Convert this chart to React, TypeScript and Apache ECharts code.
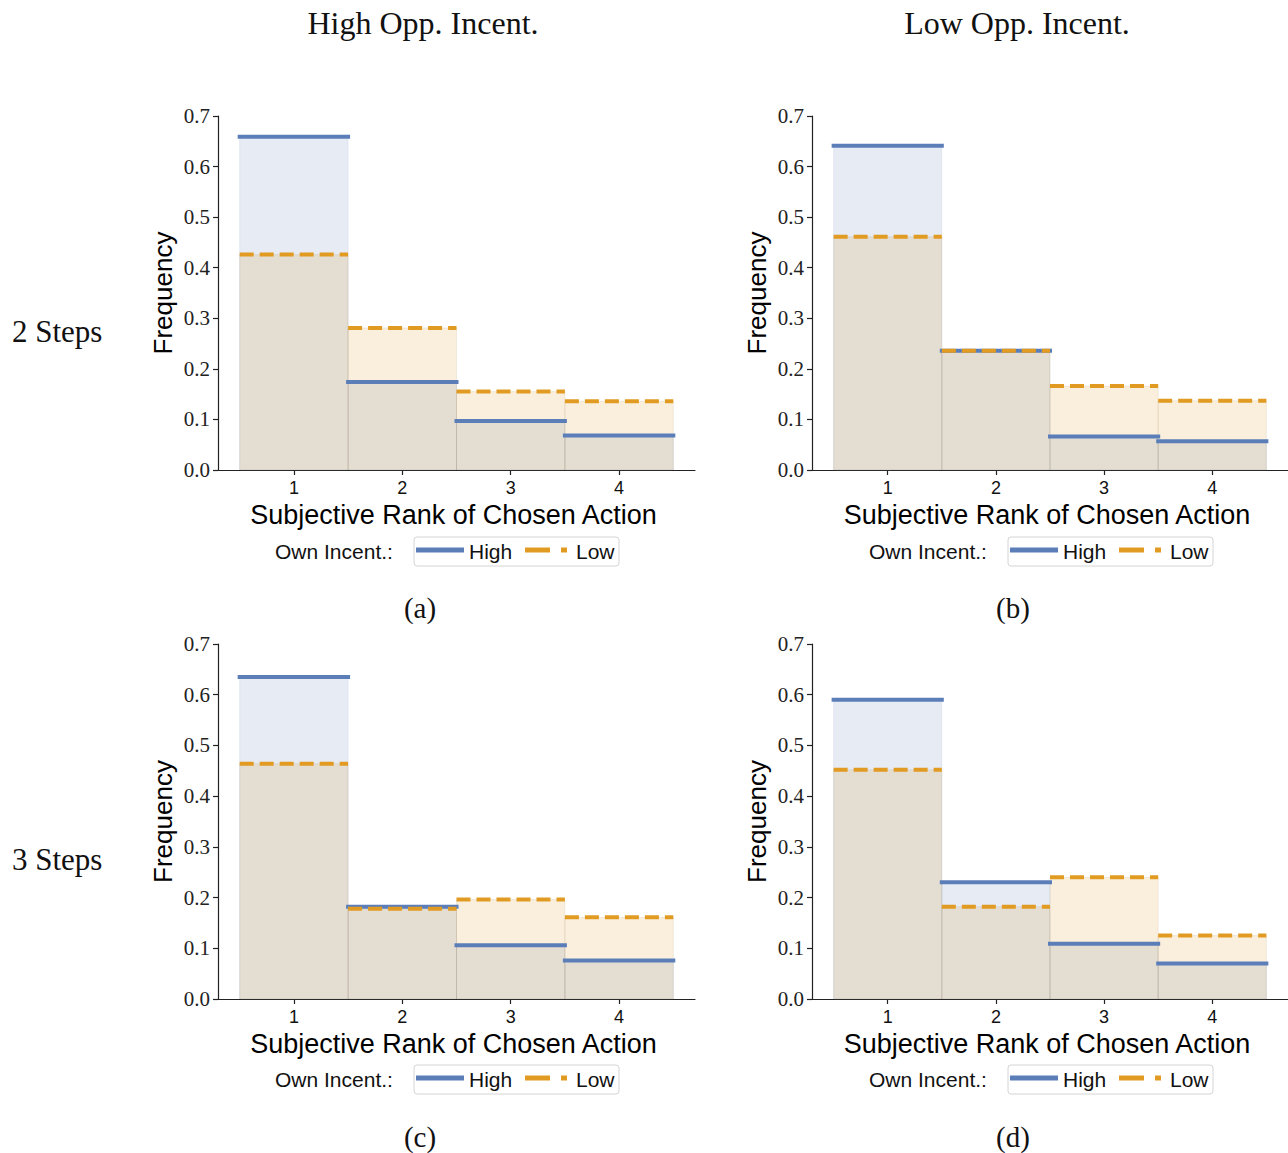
import React, { useEffect, useRef } from "react";
import * as echarts from "echarts";

// ---------- data ----------
const ranks = [1, 2, 3, 4];
const yTickValues = [0, 0.1, 0.2, 0.3, 0.4, 0.5, 0.6, 0.7];

const panelAHigh = [0.659, 0.174, 0.097, 0.068];
const panelALow = [0.426, 0.281, 0.155, 0.136];
const panelBHigh = [0.641, 0.236, 0.066, 0.057];
const panelBLow = [0.461, 0.236, 0.166, 0.137];
const panelCHigh = [0.635, 0.182, 0.106, 0.076];
const panelCLow = [0.464, 0.178, 0.196, 0.161];
const panelDHigh = [0.59, 0.23, 0.109, 0.07];
const panelDLow = [0.452, 0.182, 0.24, 0.125];

const columnTitles = ["High Opp. Incent.", "Low Opp. Incent."];
const rowTitles = ["2 Steps", "3 Steps"];
const panelLabels = ["(a)", "(b)", "(c)", "(d)"];
const legendTitle = "Own Incent.:";
const seriesNames = ["High", "Low"];
const xAxisTitle = "Subjective Rank of Chosen Action";
const yAxisTitle = "Frequency";

// ---------- styles ----------
const SANS = "Liberation Sans";
const SERIF = "Liberation Serif";
const BLUE_LINE = "#5b7eb9";
const ORANGE_LINE = "#e29b22";
const BLUE_FILL = "rgba(76,114,176,0.14)";
const ORANGE_FILL = "rgba(222,143,5,0.14)";
const BLUE_EDGE = "rgba(76,114,176,0.10)";
const ORANGE_EDGE = "rgba(160,130,90,0.12)";
const AXIS_COLOR = "#222";

const panels = [
  { high: panelAHigh, low: panelALow, grid: { left: 218, top: 116, width: 477, height: 354 } },
  { high: panelBHigh, low: panelBLow, grid: { left: 812, top: 116, width: 476, height: 354 } },
  { high: panelCHigh, low: panelCLow, grid: { left: 218, top: 644, width: 477, height: 355 } },
  { high: panelDHigh, low: panelDLow, grid: { left: 812, top: 644, width: 476, height: 355 } },
];

function toData(values: number[]) {
  return ranks.map((r, i) => [r, values[i]]);
}

function fillRenderer(fill: string, edge: string) {
  return (_params: any, api: any) => {
    const x = api.value(0);
    const v = api.value(1);
    const p0 = api.coord([x - 0.5, 0]);
    const p1 = api.coord([x + 0.5, v]);
    return {
      type: "rect",
      shape: { x: p0[0], y: p1[1], width: p1[0] - p0[0], height: p0[1] - p1[1] },
      style: { fill, stroke: edge, lineWidth: 1 },
    };
  };
}

function lineRenderer(stroke: string, dashed: boolean) {
  return (_params: any, api: any) => {
    const x = api.value(0);
    const v = api.value(1);
    const p0 = api.coord([x - 0.5, v]);
    const p1 = api.coord([x + 0.5, v]);
    return {
      type: "line",
      shape: { x1: p0[0], y1: p0[1], x2: p1[0], y2: p1[1] },
      style: {
        stroke,
        lineWidth: 4,
        lineDash: dashed ? [14, 6] : null,
        lineCap: dashed ? "butt" : "square",
      },
    };
  };
}

function legendGraphics(grid: { left: number; top: number }) {
  const ox = grid.left - 218;
  const oy = grid.top - 116;
  return [
    {
      type: "text",
      x: 275 + ox,
      y: 551 + oy,
      style: { text: legendTitle, font: `21px "${SANS}"`, fill: "#111", align: "left", verticalAlign: "middle" },
    },
    {
      type: "rect",
      shape: { x: 414 + ox, y: 537 + oy, width: 205, height: 29, r: 3 },
      style: { fill: "#fff", stroke: "#d4d4d4", lineWidth: 1 },
    },
    {
      type: "line",
      shape: { x1: 416 + ox, y1: 550 + oy, x2: 464 + ox, y2: 550 + oy },
      style: { stroke: BLUE_LINE, lineWidth: 5 },
    },
    {
      type: "text",
      x: 469 + ox,
      y: 551 + oy,
      style: { text: seriesNames[0], font: `21px "${SANS}"`, fill: "#111", align: "left", verticalAlign: "middle" },
    },
    {
      type: "line",
      shape: { x1: 525 + ox, y1: 550 + oy, x2: 567 + ox, y2: 550 + oy },
      style: { stroke: ORANGE_LINE, lineWidth: 5, lineDash: [25, 11] },
    },
    {
      type: "text",
      x: 576 + ox,
      y: 551 + oy,
      style: { text: seriesNames[1], font: `21px "${SANS}"`, fill: "#111", align: "left", verticalAlign: "middle" },
    },
  ];
}

export default function App() {
  const ref = useRef<HTMLDivElement>(null);

  useEffect(() => {
    document.body.style.margin = "0";
    if (!ref.current) return;
    const chart = echarts.init(ref.current, undefined, { renderer: "svg" });

    const grids = panels.map((p) => ({ ...p.grid, containLabel: false }));
    const xAxes = panels.map((_, i) => ({
      type: "value",
      gridIndex: i,
      min: 0.3,
      max: 4.7,
      name: xAxisTitle,
      nameLocation: "middle",
      nameGap: 31,
      nameTextStyle: { fontFamily: SANS, fontSize: 27, color: "#000", verticalAlign: "top", padding: [0, 6, 0, 0] },
      axisLine: { show: true, lineStyle: { color: AXIS_COLOR, width: 1.2 } },
      axisTick: { show: true, length: 5, customValues: ranks, lineStyle: { color: AXIS_COLOR, width: 1.2 } },
      axisLabel: {
        show: true,
        customValues: ranks,
        margin: 9,
        fontFamily: SANS,
        fontSize: 18,
        color: "#111",
        formatter: (v: number) => String(v),
      },
      splitLine: { show: false },
    }));
    const yAxes = panels.map((_, i) => ({
      type: "value",
      gridIndex: i,
      min: 0,
      max: 0.7,
      interval: 0.1,
      name: yAxisTitle,
      nameLocation: "middle",
      nameRotate: 90,
      nameGap: 42,
      nameTextStyle: { fontFamily: SANS, fontSize: 26, color: "#000" },
      axisLine: { show: true, lineStyle: { color: AXIS_COLOR, width: 1.2 } },
      axisTick: { show: true, length: 5, customValues: yTickValues, lineStyle: { color: AXIS_COLOR, width: 1.2 } },
      axisLabel: {
        show: true,
        customValues: yTickValues,
        margin: 8,
        fontFamily: SERIF,
        fontSize: 21,
        color: "#222",
        formatter: (v: number) => v.toFixed(1),
      },
      splitLine: { show: false },
    }));

    const series: any[] = [];
    panels.forEach((p, i) => {
      series.push({
        type: "custom",
        name: seriesNames[0] + " fill",
        xAxisIndex: i,
        yAxisIndex: i,
        data: toData(p.high),
        encode: { x: 0, y: 1 },
        renderItem: fillRenderer(BLUE_FILL, BLUE_EDGE),
        z: 1,
      });
      series.push({
        type: "custom",
        name: seriesNames[1] + " fill",
        xAxisIndex: i,
        yAxisIndex: i,
        data: toData(p.low),
        encode: { x: 0, y: 1 },
        renderItem: fillRenderer(ORANGE_FILL, ORANGE_EDGE),
        z: 2,
      });
      series.push({
        type: "custom",
        name: seriesNames[0],
        xAxisIndex: i,
        yAxisIndex: i,
        data: toData(p.high),
        encode: { x: 0, y: 1 },
        renderItem: lineRenderer(BLUE_LINE, false),
        z: 3,
      });
      series.push({
        type: "custom",
        name: seriesNames[1],
        xAxisIndex: i,
        yAxisIndex: i,
        data: toData(p.low),
        encode: { x: 0, y: 1 },
        renderItem: lineRenderer(ORANGE_LINE, true),
        z: 4,
      });
    });

    const textEl = (text: string, x: number, y: number, size: number, align = "center") => ({
      type: "text",
      x,
      y,
      style: { text, font: `${size}px "${SERIF}"`, fill: "#111", align, verticalAlign: "middle" },
    });

    const graphics: any[] = [
      textEl(columnTitles[0], 423, 23, 32),
      textEl(columnTitles[1], 1017, 23, 32),
      textEl(rowTitles[0], 12, 331, 31, "left"),
      textEl(rowTitles[1], 12, 859, 31, "left"),
      textEl(panelLabels[0], 420, 608, 29),
      textEl(panelLabels[1], 1013, 608, 29),
      textEl(panelLabels[2], 420, 1137, 29),
      textEl(panelLabels[3], 1013, 1137, 29),
    ];
    panels.forEach((p) => graphics.push(...legendGraphics(p.grid)));

    chart.setOption({
      animation: false,
      backgroundColor: "#fff",
      grid: grids,
      xAxis: xAxes,
      yAxis: yAxes,
      series,
      graphic: { elements: graphics },
    });

    return () => chart.dispose();
  }, []);

  return <div ref={ref} style={{ width: 1288, height: 1153 }} />;
}
